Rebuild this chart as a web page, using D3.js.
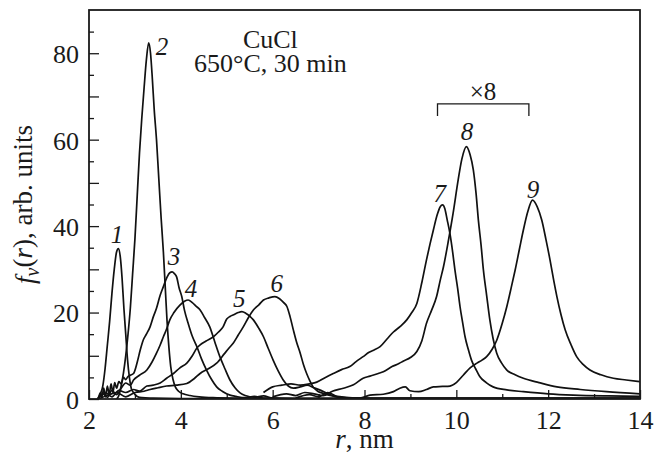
<!DOCTYPE html>
<html>
<head>
<meta charset="utf-8">
<script src="https://cdn.jsdelivr.net/npm/d3@7"></script>
<style>
    body { margin: 0; background: #fff; }
    svg text { font-family: "Liberation Serif", "Times New Roman", serif; fill: #1a1a1a; }
</style>
</head>
<body>
<svg id="chart" width="664" height="459"></svg>
<script>
// Size distributions f_v(r), [r in nm, value]; curves 7-9 already multiplied by 8
const curve1 = [[2.18,0],[2.25,1.2],[2.3,3],[2.35,7],[2.4,12.5],[2.45,18],[2.5,24.5],[2.55,30],[2.6,34],[2.64,34.8],[2.68,33],[2.72,28],[2.76,21],[2.8,15],[2.84,9],[2.88,5],[2.92,2.5],[2.97,1.5],[3.05,0.6],[3.15,0.3],[3.4,0.2],[4,0.1],[6,0.1],[10,0.1],[14,0.1]];
const curve2 = [[2.6,0],[2.65,0.8],[2.7,3],[2.75,6],[2.8,10],[2.85,15],[2.9,21],[2.95,29],[3.0,37],[3.05,47],[3.1,57],[3.15,65],[3.2,72],[3.25,78.5],[3.3,82.4],[3.34,80],[3.38,74],[3.42,67],[3.47,60],[3.52,51],[3.57,42],[3.62,34],[3.66,26],[3.7,18],[3.74,12],[3.78,7.5],[3.83,4.5],[3.88,2.8],[3.95,1.8],[4.05,1.2],[4.2,0.8],[4.4,0.5],[4.7,0.3],[5.2,0.2],[7,0.1],[14,0.1]];
const curve3 = [[2.2,0],[2.25,1.5],[2.28,0.3],[2.32,2.5],[2.36,0.5],[2.4,3],[2.44,1],[2.48,3.5],[2.52,1.5],[2.56,3.8],[2.6,2.5],[2.65,4],[2.7,3.5],[2.75,5],[2.8,4.5],[2.85,5.2],[2.9,5.5],[2.97,5.9],[3.05,8.5],[3.12,11.5],[3.18,13.6],[3.25,15],[3.33,16.7],[3.4,19],[3.47,21],[3.55,24],[3.62,26],[3.7,28.2],[3.76,29.2],[3.81,29.4],[3.86,29],[3.91,28.2],[3.96,25.8],[4.02,23.7],[4.08,20.5],[4.16,17.5],[4.25,14.5],[4.35,12.1],[4.45,9.3],[4.56,6.7],[4.67,4.5],[4.78,2.8],[4.9,1.8],[5.07,0.9],[5.2,0.6],[5.4,0.3],[5.6,0.6],[5.8,0.2],[6.2,0.1],[9,0.2],[14,0.2]];
const curve4 = [[2.2,0],[2.3,1.2],[2.4,0.4],[2.5,2],[2.6,1],[2.7,2.5],[2.8,3.7],[2.9,3.2],[2.97,4.4],[3.1,5.5],[3.26,6.7],[3.37,8.5],[3.47,10.6],[3.55,12.5],[3.62,14.4],[3.69,16.2],[3.76,18.3],[3.85,20],[3.98,21.7],[4.08,22.6],[4.16,22.9],[4.25,22.3],[4.33,21.5],[4.42,20.6],[4.52,18.8],[4.63,16.7],[4.74,13.2],[4.85,9.8],[4.96,7],[5.07,4.4],[5.18,2.6],[5.29,1.4],[5.4,0.8],[5.6,0.4],[5.8,0.7],[6,0.2],[6.5,0.1],[14,0.1]];
const curve5 = [[2.2,0],[2.35,1.5],[2.5,0.5],[2.65,2],[2.8,1.5],[2.97,2.2],[3.1,1.8],[3.26,3],[3.4,3.2],[3.55,3.7],[3.69,4.8],[3.84,5.9],[3.98,7.2],[4.13,8.3],[4.25,10],[4.35,11.8],[4.42,12.5],[4.55,13.4],[4.71,14.4],[4.82,15.5],[4.92,16.7],[5.0,18.5],[5.07,19.1],[5.15,19.5],[5.25,20],[5.33,20.2],[5.42,19.8],[5.5,19.2],[5.58,18.3],[5.69,16.5],[5.8,14.4],[5.9,11.8],[6.01,9],[6.12,6.5],[6.23,4.4],[6.34,3],[6.45,2.5],[6.6,2.8],[6.75,3.2],[6.9,2.6],[7.05,2],[7.2,1.2],[7.35,0.6],[7.5,0.3],[8,0.1],[14,0.1]];
const curve6 = [[2.2,0],[2.4,0.8],[2.6,1.5],[2.8,0.5],[3.0,1.5],[3.2,1.8],[3.33,2.2],[3.5,2.6],[3.69,3],[3.9,3.2],[4.13,3.6],[4.3,4.8],[4.42,5.9],[4.6,7],[4.78,8.3],[4.95,10.5],[5.05,11.8],[5.14,12.9],[5.25,14.8],[5.36,16.7],[5.47,18.8],[5.58,20.6],[5.7,21.8],[5.8,22.9],[5.92,23.4],[6.05,23.7],[6.15,23.2],[6.24,22.3],[6.31,21.4],[6.38,19],[6.45,16],[6.52,13.2],[6.6,10.6],[6.67,8],[6.74,5.9],[6.81,4.2],[6.88,2.8],[6.98,1.8],[7.1,1.3],[7.3,0.7],[7.5,0.4],[7.8,0.2],[8.2,0.1],[14,0.1]];
const curve7 = [[5.8,1.5],[6.0,2.8],[6.2,3.2],[6.4,3.5],[6.6,3.2],[6.8,3.5],[6.96,3.9],[7.15,5],[7.32,5.9],[7.5,6.8],[7.68,7.5],[7.81,8.6],[7.97,9.8],[8.1,10.8],[8.2,11.3],[8.34,12.1],[8.5,14],[8.63,15.5],[8.78,16.8],[8.92,18.3],[9.03,20],[9.14,22.1],[9.25,27],[9.35,32.2],[9.43,36],[9.5,39.1],[9.58,42.5],[9.65,44.5],[9.7,44.9],[9.75,44],[9.8,41.5],[9.86,38.3],[9.92,34],[9.97,29.8],[10.03,25.5],[10.08,21.4],[10.14,17.5],[10.19,14.4],[10.26,11.5],[10.33,9],[10.42,7],[10.51,5.2],[10.65,3.8],[10.8,2.8],[11.1,2.1],[11.46,1.7],[12,1.2],[12.55,0.9],[13.3,0.7],[14,0.6]];
const curve8 = [[6.0,0.5],[6.3,1.2],[6.5,0.8],[6.7,1.5],[6.9,1.2],[7.1,0.8],[7.3,1.8],[7.54,2.5],[7.76,3.3],[7.97,4.8],[8.12,5.3],[8.3,5.9],[8.41,6.3],[8.6,7.5],[8.75,8.2],[8.85,8.8],[9.0,9.6],[9.14,11],[9.25,13.5],[9.35,17.5],[9.46,20.5],[9.57,23.7],[9.65,27.5],[9.72,30.6],[9.83,36.8],[9.93,43],[10.04,50.7],[10.12,55.5],[10.22,58.4],[10.3,56.5],[10.37,53],[10.43,47.5],[10.48,41.4],[10.54,35.5],[10.59,29.8],[10.66,24],[10.73,18.3],[10.8,14],[10.88,10.6],[10.98,8.4],[11.1,6.7],[11.28,5.6],[11.46,4.8],[11.8,3.8],[12.19,2.8],[12.7,2.2],[13.27,1.7],[14,1.2]];
const curve9 = [[6.5,0.2],[6.8,1],[7.0,0.5],[7.2,1.5],[7.4,0.6],[7.6,0.4],[7.9,0.2],[8.12,0.9],[8.41,1.1],[8.63,1.7],[8.77,2.5],[8.89,2.8],[8.99,1.9],[9.18,1.7],[9.35,2.2],[9.5,2.8],[9.7,2.9],[9.86,3],[10.0,3.8],[10.15,5.5],[10.3,7.2],[10.45,8.3],[10.56,9],[10.66,9.8],[10.78,11.5],[10.88,13.6],[11.0,17.5],[11.1,21.4],[11.2,26],[11.28,29.8],[11.38,35],[11.46,39.1],[11.56,43.5],[11.66,46],[11.76,44.5],[11.86,41.4],[11.95,37],[12.04,32.2],[12.12,27.5],[12.19,23.7],[12.28,19.5],[12.37,16],[12.5,12.5],[12.62,9.8],[12.76,8],[12.91,6.7],[13.15,5.6],[13.42,4.8],[13.7,4.4],[14,4]];

const curves = [curve1, curve2, curve3, curve4, curve5, curve6, curve7, curve8, curve9];
const curveNames = ["1", "2", "3", "4", "5", "6", "7", "8", "9"];
// where each curve number sits, in data units [r, value]
const namePos = [[2.61,36.1],[3.59,79.6],[3.85,31],[4.22,23.6],[5.27,21.3],[6.09,24.8],[9.64,45.6],[10.23,59.9],[11.67,46.5]];

const xTicks = [2, 4, 6, 8, 10, 12, 14];
const xMinor = [3, 5, 7, 9, 11, 13];
const yTicks = [0, 20, 40, 60, 80];
const yMid = [10, 30, 50, 70];
const yMinor = [5, 15, 25, 35, 45, 55, 65, 75, 85];

const svg = d3.select("#chart");
const margin = {top: 10, right: 24, bottom: 60, left: 89};
const width = +svg.attr("width") - margin.left - margin.right;
const height = +svg.attr("height") - margin.top - margin.bottom;

const g = svg.append("g")
    .attr("transform", "translate(" + margin.left + "," + margin.top + ")");

const x = d3.scaleLinear().domain([2, 14]).range([0, width]);
const y = d3.scaleLinear().domain([0, 90]).range([height, 0]);

svg.append("clipPath").attr("id", "plot")
    .append("rect").attr("width", width).attr("height", height);

// x axis, ticks pointing inwards
const xAxis = g.append("g")
    .attr("transform", "translate(0," + height + ")")
    .call(d3.axisBottom(x).tickValues(xTicks).tickSize(-9).tickPadding(12).tickFormat(d3.format("d")));
g.append("g")
    .attr("transform", "translate(0," + height + ")")
    .call(d3.axisBottom(x).tickValues(xMinor).tickSize(-5).tickFormat(""));

// y axis
const yAxis = g.append("g")
    .call(d3.axisLeft(y).tickValues(yTicks).tickSize(-10).tickPadding(10));
g.append("g").call(d3.axisLeft(y).tickValues(yMid).tickSize(-10).tickFormat(""));
g.append("g").call(d3.axisLeft(y).tickValues(yMinor).tickSize(-5).tickFormat(""));

g.selectAll(".domain").remove();
g.selectAll(".tick line").attr("stroke", "#1a1a1a").attr("stroke-width", 1.3);
g.selectAll(".tick text")
    .attr("font-size", 26)
    .attr("font-family", "Liberation Serif, serif")
    .attr("fill", "#1a1a1a");
yAxis.selectAll(".tick text").attr("dy", "0.36em");

// curves
const line = d3.line()
    .x(d => x(d[0]))
    .y(d => y(d[1]))
    .curve(d3.curveMonotoneX);

g.append("g")
    .attr("clip-path", "url(#plot)")
    .selectAll(".curve")
    .data(curves)
    .enter().append("path")
    .attr("class", "curve")
    .attr("d", line)
    .attr("fill", "none")
    .attr("stroke", "#111")
    .attr("stroke-width", 1.7)
    .attr("stroke-linejoin", "round");

// frame
g.append("rect")
    .attr("width", width)
    .attr("height", height)
    .attr("fill", "none")
    .attr("stroke", "#1a1a1a")
    .attr("stroke-width", 1.8);

// curve numbers
g.selectAll(".name")
    .data(curveNames)
    .enter().append("text")
    .attr("class", "name")
    .attr("x", (d, i) => x(namePos[i][0]))
    .attr("y", (d, i) => y(namePos[i][1]))
    .attr("text-anchor", "middle")
    .attr("font-size", 25)
    .attr("font-style", "italic")
    .text(d => d);

// x8 bracket over curves 7-9
const bracket = {r0: 9.59, r1: 11.58, top: 68.3, leg: 65.5};
g.append("path")
    .attr("d", "M" + x(bracket.r0) + "," + y(bracket.leg) +
        "V" + y(bracket.top) + "H" + x(bracket.r1) + "V" + y(bracket.leg))
    .attr("fill", "none")
    .attr("stroke", "#1a1a1a")
    .attr("stroke-width", 1.3);
g.append("text")
    .attr("x", x(10.58))
    .attr("y", y(69.2))
    .attr("text-anchor", "middle")
    .attr("font-size", 25)
    .text("×8");

// sample note
g.append("text")
    .attr("x", x(5.95)).attr("y", y(81.2))
    .attr("text-anchor", "middle").attr("font-size", 26)
    .text("CuCl");
g.append("text")
    .attr("x", x(5.95)).attr("y", y(75.7))
    .attr("text-anchor", "middle").attr("font-size", 26)
    .text("650°C, 30 min");

// axis titles
const xTitle = svg.append("text")
    .attr("x", margin.left + width / 2)
    .attr("y", 448)
    .attr("text-anchor", "middle")
    .attr("font-size", 27);
xTitle.append("tspan").attr("font-style", "italic").text("r");
xTitle.append("tspan").text(", nm");

const yTitle = svg.append("text")
    .attr("transform", "translate(34," + (margin.top + height / 2) + ") rotate(-90)")
    .attr("text-anchor", "middle")
    .attr("font-size", 27);
yTitle.append("tspan").attr("font-style", "italic").text("f");
yTitle.append("tspan").attr("font-style", "italic").attr("font-size", 20).attr("dy", "0.25em").text("v");
yTitle.append("tspan").attr("dy", "-0.25em").text("(");
yTitle.append("tspan").attr("font-style", "italic").text("r");
yTitle.append("tspan").text("), arb. units");
</script>
</body>
</html>
